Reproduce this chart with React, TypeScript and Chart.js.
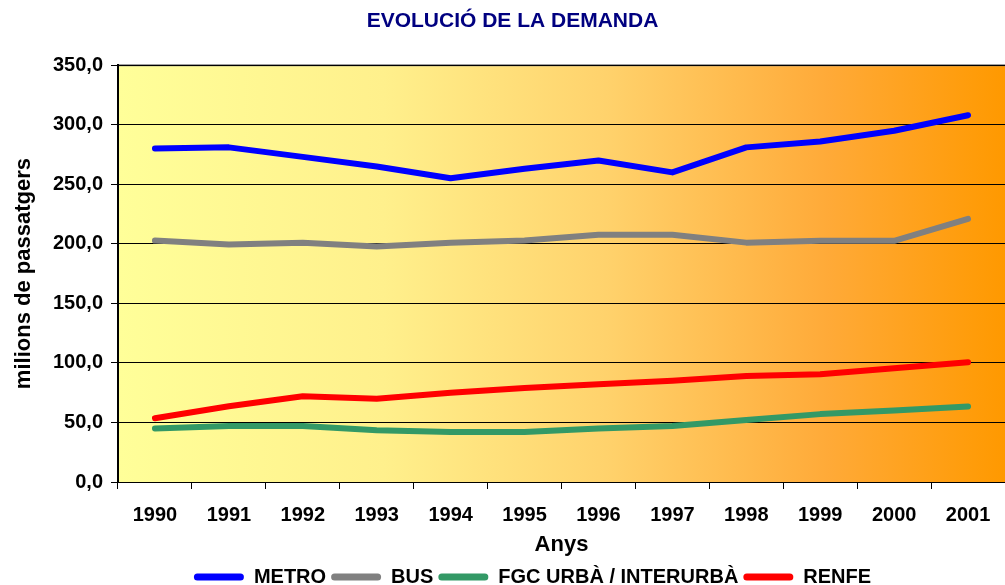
import React, { useEffect, useRef } from "react";
import { Chart, registerables } from "chart.js";

Chart.register(...registerables);

const years = ["1990", "1991", "1992", "1993", "1994", "1995", "1996", "1997", "1998", "1999", "2000", "2001"];
const metro = [280, 281, 273, 265, 255, 263, 270, 260, 281, 286, 295, 308];
const bus = [202.7, 199.5, 201, 197.7, 201, 202.7, 207.7, 207.7, 201, 202.5, 202.5, 221];
const fgc = [45, 47, 47, 43.5, 42, 42, 45, 47, 52, 57, 60, 63.5];
const renfe = [53.6, 63.6, 72, 70, 75, 79, 82, 85, 89, 90.5, 95.5, 100.5];
const seriesNames = ["METRO", "BUS", "FGC URBÀ / INTERURBÀ", "RENFE"];
const seriesColors = ["#0000FF", "#808080", "#339966", "#FF0000"];

const FONT = "'Liberation Sans', Arial, sans-serif";

const bgPlugin = {
  id: "bgGradient",
  afterLayout(chart: any) {
    if (chart.legend) {
      chart.legend.top += 12;
      chart.legend.bottom += 12;
      chart.legend.left += 30;
      chart.legend.right += 30;
    }
    if (chart.titleBlock) {
      chart.titleBlock.left += 10;
      chart.titleBlock.right += 10;
    }
  },
  beforeDraw(chart: any) {
    const { ctx, chartArea } = chart;
    if (!chartArea) return;
    const g = ctx.createLinearGradient(chartArea.left, 0, chartArea.right, 0);
    g.addColorStop(0, "#FFFF99");
    g.addColorStop(0.3, "#FFF08C");
    g.addColorStop(0.55, "#FFD26C");
    g.addColorStop(0.8, "#FFAA38");
    g.addColorStop(1, "#FF9900");
    ctx.save();
    ctx.fillStyle = g;
    ctx.fillRect(chartArea.left, chartArea.top, chartArea.right - chartArea.left, chartArea.bottom - chartArea.top);
    ctx.strokeStyle = "#808080";
    ctx.lineWidth = 2;
    ctx.beginPath();
    ctx.moveTo(chartArea.left, chartArea.top);
    ctx.lineTo(chartArea.right, chartArea.top);
    ctx.stroke();
    ctx.restore();
  },
};

export default function App() {
  const ref = useRef<HTMLCanvasElement>(null);
  useEffect(() => {
    document.body.style.margin = "0";
    const values = [metro, bus, fgc, renfe];
    const chart = new Chart(ref.current!, {
      type: "line",
      data: {
        labels: years,
        datasets: values.map((v, i) => ({
          label: seriesNames[i],
          data: v,
          borderColor: seriesColors[i],
          backgroundColor: seriesColors[i],
          borderWidth: 6,
          pointRadius: 0,
          tension: 0,
          borderCapStyle: "round",
          borderJoinStyle: "round",
          fill: false,
        })),
      },
      options: {
        animation: false,
        responsive: false,
        maintainAspectRatio: false,
        layout: { padding: { left: 0, right: 0, top: 0, bottom: 0 } },
        plugins: {
          title: {
            display: true,
            text: "EVOLUCIÓ DE LA DEMANDA",
            color: "#000080",
            font: { family: FONT, size: 21, weight: "bold" },
            padding: { top: 9, bottom: 31 },
          },
          legend: {
            position: "bottom",
            labels: {
              color: "#000000",
              font: { family: FONT, size: 20, weight: "bold" },
              boxWidth: 50,
              boxHeight: 7,
              padding: 5,
              generateLabels: (c: any) =>
                c.data.datasets.map((d: any, i: number) => ({
                  text: d.label,
                  fillStyle: d.borderColor,
                  strokeStyle: d.borderColor,
                  lineWidth: 0,
                  borderRadius: 3.5,
                  datasetIndex: i,
                  hidden: false,
                  fontColor: "#000000",
                })),
            },
          },
          tooltip: { enabled: false },
        },
        scales: {
          x: {
            offset: true,
            grid: {
              display: true,
              drawOnChartArea: false,
              drawTicks: true,
              tickLength: 7,
              color: "#000000",
              offset: true,
            },
            border: { display: true, color: "#000000", width: 1 },
            ticks: {
              color: "#000000",
              font: { family: FONT, size: 20, weight: "bold" },
              padding: 14,
              maxRotation: 0,
              autoSkip: false,
            },
            title: {
              display: true,
              text: "Anys",
              color: "#000000",
              font: { family: FONT, size: 22, weight: "bold" },
              padding: { top: 0, bottom: -8 },
            },
            afterFit: (s: any) => {
              s.height = 68;
            },
          },
          y: {
            min: 0,
            max: 350,
            grid: {
              color: "#000000",
              lineWidth: 1,
              tickLength: 7,
            },
            border: { display: true, color: "#000000", width: 2 },
            ticks: {
              stepSize: 50,
              color: "#000000",
              font: { family: FONT, size: 20, weight: "bold" },
              padding: 8,
              callback: (v: any) => Number(v).toFixed(1).replace(".", ","),
            },
            title: {
              display: true,
              text: "milions de passatgers",
              color: "#000000",
              font: { family: FONT, size: 22, weight: "bold" },
              padding: { top: 11, bottom: 8 },
            },
            afterFit: (s: any) => {
              s.width = 118;
            },
          },
        },
      },
      plugins: [bgPlugin],
    } as any);
    return () => chart.destroy();
  }, []);
  return (
    <div style={{ position: "absolute", left: 0, top: 0, width: 1005, height: 585 }}>
      <canvas ref={ref} width={1005} height={585} style={{ width: 1005, height: 585, display: "block" }} />
    </div>
  );
}
